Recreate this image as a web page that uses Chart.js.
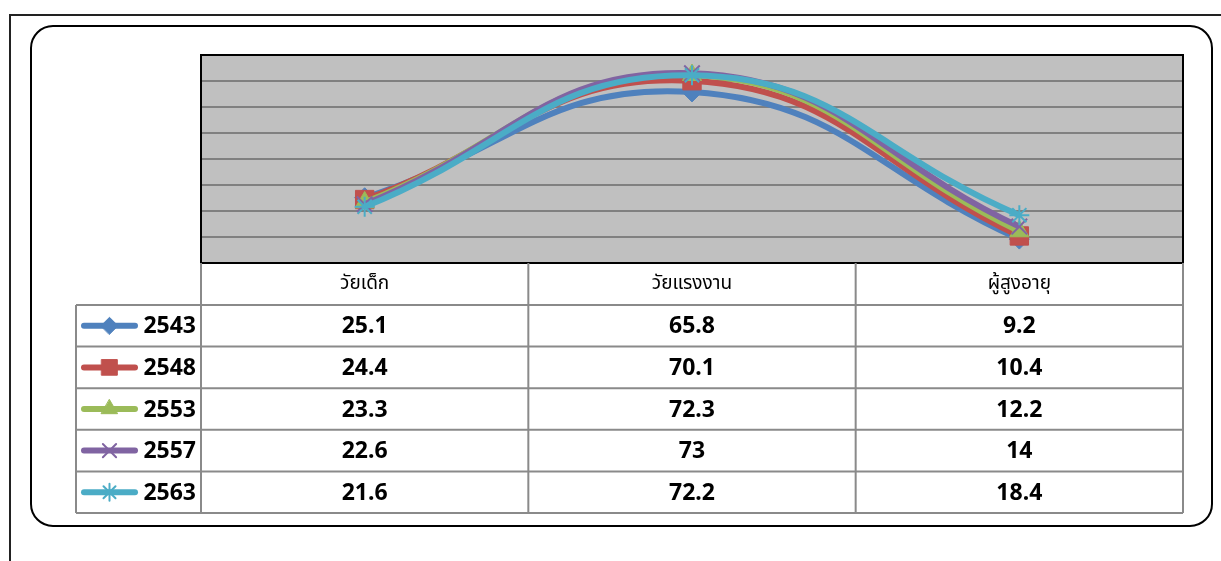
<!DOCTYPE html>
<html>
<head>
<meta charset="utf-8">
<script src="https://cdn.jsdelivr.net/npm/chart.js@4/dist/chart.umd.min.js"></script>
<style>
html,body{margin:0;padding:0;background:#fff;}
#wrap{position:relative;width:1221px;height:561px;}
</style>
</head>
<body>
<div id="wrap"><canvas id="c"></canvas></div>
<script>
const categories = ['วัยเด็ก', 'วัยแรงงาน', 'ผู้สูงอายุ'];
const seriesNames = ['2543', '2548', '2553', '2557', '2563'];
const v2543 = [25.1, 65.8, 9.2];
const v2548 = [24.4, 70.1, 10.4];
const v2553 = [23.3, 72.3, 12.2];
const v2557 = [22.6, 73, 14];
const v2563 = [21.6, 72.2, 18.4];
const tableLabels = [
  ['25.1', '65.8', '9.2'],
  ['24.4', '70.1', '10.4'],
  ['23.3', '72.3', '12.2'],
  ['22.6', '73', '14'],
  ['21.6', '72.2', '18.4']
];
const seriesValues = [v2543, v2548, v2553, v2557, v2563];

const colors = ['#4F81BD', '#C0504D', '#9BBB59', '#8064A2', '#4BACC6'];
const styles = ['rectRot', 'rect', 'triangle', 'crossRot', 'star'];
const radii = [10, 13, 11, 11, 10];
const pbw = [1, 1, 1, 2, 2];

const FONT = '"Noto Sans", "Noto Sans Thai", "Open Sans", sans-serif';

function roundRect(ctx, x, y, w, h, r) {
  ctx.beginPath();
  ctx.moveTo(x + r, y);
  ctx.lineTo(x + w - r, y);
  ctx.arcTo(x + w, y, x + w, y + r, r);
  ctx.lineTo(x + w, y + h - r);
  ctx.arcTo(x + w, y + h, x + w - r, y + h, r);
  ctx.lineTo(x + r, y + h);
  ctx.arcTo(x, y + h, x, y + h - r, r);
  ctx.lineTo(x, y + r);
  ctx.arcTo(x, y, x + r, y, r);
  ctx.closePath();
}

function fallbackPoint(ctx, o, x, y) {
  const r = o.radius;
  ctx.beginPath();
  switch (o.pointStyle) {
    case 'rectRot':
      ctx.moveTo(x, y - r); ctx.lineTo(x + r, y); ctx.lineTo(x, y + r); ctx.lineTo(x - r, y); ctx.closePath(); break;
    case 'rect': {
      const s = Math.SQRT1_2 * r; ctx.rect(x - s, y - s, 2 * s, 2 * s); break; }
    case 'triangle':
      ctx.moveTo(x, y - r); ctx.lineTo(x + r * Math.sin(Math.PI / 3), y + r / 2); ctx.lineTo(x - r * Math.sin(Math.PI / 3), y + r / 2); ctx.closePath(); break;
    case 'crossRot': {
      const s = Math.SQRT1_2 * r; ctx.moveTo(x - s, y - s); ctx.lineTo(x + s, y + s); ctx.moveTo(x - s, y + s); ctx.lineTo(x + s, y - s); break; }
    case 'star': {
      const s = Math.SQRT1_2 * r;
      ctx.moveTo(x - s, y - s); ctx.lineTo(x + s, y + s); ctx.moveTo(x - s, y + s); ctx.lineTo(x + s, y - s);
      ctx.moveTo(x, y - r); ctx.lineTo(x, y + r); ctx.moveTo(x - r, y); ctx.lineTo(x + r, y); break; }
  }
  ctx.fill();
  if (o.borderWidth > 0) ctx.stroke();
}
const drawPt = (Chart.helpers && Chart.helpers.drawPoint) ? Chart.helpers.drawPoint : fallbackPoint;

const bgPlugin = {
  id: 'bg',
  beforeDraw(chart) {
    const ctx = chart.ctx;
    const a = chart.chartArea;
    ctx.save();
    ctx.fillStyle = '#fff';
    ctx.fillRect(0, 0, chart.width, chart.height);
    // outer frame
    ctx.strokeStyle = '#222';
    ctx.lineWidth = 2;
    ctx.strokeRect(10, 15, 1300, 700);
    // rounded frame
    ctx.strokeStyle = '#000';
    ctx.lineWidth = 2;
    roundRect(ctx, 31, 26, 1181, 500, 22);
    ctx.stroke();
    // plot background
    ctx.fillStyle = '#C0C0C0';
    ctx.fillRect(a.left, a.top, a.right - a.left, a.bottom - a.top);
    ctx.restore();
  },
  afterDraw(chart) {
    const ctx = chart.ctx;
    const a = chart.chartArea;
    const xs = chart.scales.x;
    ctx.save();
    // plot border
    ctx.strokeStyle = '#000';
    ctx.lineWidth = 2;
    ctx.strokeRect(a.left, a.top, a.right - a.left, a.bottom - a.top);

    // data table
    const half = (xs.getPixelForValue(1) - xs.getPixelForValue(0)) / 2;
    const bounds = [xs.getPixelForValue(0) - half];
    for (let i = 0; i < categories.length; i++) bounds.push(xs.getPixelForValue(i) + half);
    const headTop = a.bottom;
    const headH = 42;
    const rowH = 41.6;
    const legLeft = 76;
    const rowsTop = headTop + headH;
    const tableBottom = rowsTop + rowH * seriesNames.length;

    ctx.strokeStyle = '#8a8a8a';
    ctx.lineWidth = 2;
    ctx.beginPath();
    bounds.forEach(b => { ctx.moveTo(b, headTop); ctx.lineTo(b, tableBottom); });
    ctx.moveTo(legLeft, rowsTop); ctx.lineTo(legLeft, tableBottom);
    for (let r = 0; r <= seriesNames.length; r++) {
      const y = rowsTop + r * rowH;
      ctx.moveTo(legLeft, y); ctx.lineTo(bounds[bounds.length - 1], y);
    }
    ctx.stroke();

    ctx.fillStyle = '#000';
    ctx.textAlign = 'center';
    ctx.textBaseline = 'middle';
    ctx.font = '19px ' + FONT;
    categories.forEach((c, i) => {
      ctx.fillText(c, xs.getPixelForValue(i), headTop + headH / 2);
    });
    ctx.font = 'bold 23px ' + FONT;
    seriesNames.forEach((s, r) => {
      const yc = rowsTop + r * rowH + rowH / 2 + 1;
      tableLabels[r].forEach((t, i) => ctx.fillText(t, xs.getPixelForValue(i), yc));
      ctx.save();
      ctx.strokeStyle = colors[r];
      ctx.lineWidth = 6;
      ctx.lineCap = 'round';
      ctx.beginPath();
      ctx.moveTo(84, yc - 1); ctx.lineTo(135, yc - 1);
      ctx.stroke();
      ctx.fillStyle = colors[r];
      ctx.strokeStyle = colors[r];
      ctx.lineWidth = pbw[r];
      drawPt(ctx, { pointStyle: styles[r], rotation: 0, radius: radii[r] * 0.85, borderWidth: pbw[r] }, 109.5, yc - 1);
      ctx.restore();
      ctx.textAlign = 'right';
      ctx.fillText(s, 196, yc);
      ctx.textAlign = 'center';
    });
    ctx.restore();
  }
};

const datasets = seriesNames.map((n, i) => ({
  label: n,
  data: seriesValues[i],
  borderColor: colors[i],
  backgroundColor: colors[i],
  borderWidth: 6,
  tension: 0.45,
  pointStyle: styles[i],
  pointRadius: radii[i],
  pointHoverRadius: radii[i],
  pointBorderWidth: pbw[i],
  pointBackgroundColor: colors[i],
  pointBorderColor: colors[i],
  order: seriesNames.length - i
}));

new Chart(document.getElementById('c'), {
  type: 'line',
  data: { labels: categories, datasets },
  options: {
    responsive: true,
    maintainAspectRatio: false,
    animation: false,
    events: [],
    layout: { autoPadding: false, padding: { left: 201, top: 55, right: 38, bottom: 298 } },
    plugins: { legend: { display: false }, tooltip: { enabled: false }, title: { display: false } },
    scales: {
      x: { type: 'category', offset: true, display: false },
      y: {
        min: 0, max: 80,
        ticks: { display: false, stepSize: 10 },
        grid: { drawTicks: false, color: '#808080', lineWidth: 2 },
        border: { display: false }
      }
    }
  },
  plugins: [bgPlugin]
});
</script>
</body>
</html>
